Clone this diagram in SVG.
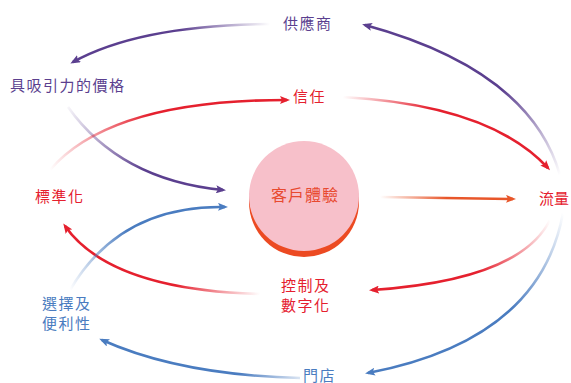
<svg xmlns="http://www.w3.org/2000/svg" width="571" height="383" viewBox="0 0 571 383">
<style>
.lbl{font-family:"Noto Sans CJK TC","Noto Sans CJK SC",sans-serif;font-size:15px;letter-spacing:1.5px}
.pu{fill:#5b3f8f}.rd{fill:#e5202e}.bl{fill:#4a7cc0}
.ln{fill:none;stroke-width:2.6}
</style>
<defs>
<marker id="mPu" viewBox="0 0 10 8" refX="7" refY="4" markerWidth="10" markerHeight="8" markerUnits="userSpaceOnUse" orient="auto"><path d="M0,0 L10,4 L0,8 L2,4 z" fill="#5b3f8f"/></marker>
<marker id="mRd" viewBox="0 0 10 8" refX="7" refY="4" markerWidth="10" markerHeight="8" markerUnits="userSpaceOnUse" orient="auto"><path d="M0,0 L10,4 L0,8 L2,4 z" fill="#e5202e"/></marker>
<marker id="mBl" viewBox="0 0 10 8" refX="7" refY="4" markerWidth="10" markerHeight="8" markerUnits="userSpaceOnUse" orient="auto"><path d="M0,0 L10,4 L0,8 L2,4 z" fill="#4a7cc0"/></marker>
<marker id="mOr" viewBox="0 0 10 8" refX="7" refY="4" markerWidth="10" markerHeight="8" markerUnits="userSpaceOnUse" orient="auto"><path d="M0,0 L10,4 L0,8 L2,4 z" fill="#e8562a"/></marker>
<linearGradient id="g1" gradientUnits="userSpaceOnUse" x1="270" y1="24" x2="73" y2="62"><stop offset="0" stop-color="#5b3f8f" stop-opacity="0"/><stop offset="0.45" stop-color="#5b3f8f"/></linearGradient>
<linearGradient id="g2" gradientUnits="userSpaceOnUse" x1="68" y1="107" x2="223" y2="190"><stop offset="0" stop-color="#5b3f8f" stop-opacity="0.05"/><stop offset="0.55" stop-color="#5b3f8f"/></linearGradient>
<linearGradient id="g3" gradientUnits="userSpaceOnUse" x1="50" y1="170" x2="287" y2="100"><stop offset="0" stop-color="#e5202e" stop-opacity="0"/><stop offset="0.45" stop-color="#e5202e"/></linearGradient>
<linearGradient id="g4" gradientUnits="userSpaceOnUse" x1="343" y1="97" x2="548" y2="168"><stop offset="0" stop-color="#e5202e" stop-opacity="0"/><stop offset="0.4" stop-color="#e5202e"/></linearGradient>
<linearGradient id="g5" gradientUnits="userSpaceOnUse" x1="560" y1="175" x2="365" y2="25"><stop offset="0" stop-color="#5b3f8f" stop-opacity="0"/><stop offset="0.4" stop-color="#5b3f8f"/></linearGradient>
<linearGradient id="g6" gradientUnits="userSpaceOnUse" x1="380" y1="197" x2="513" y2="199"><stop offset="0" stop-color="#e8562a" stop-opacity="0"/><stop offset="0.5" stop-color="#e8562a"/></linearGradient>
<linearGradient id="g7" gradientUnits="userSpaceOnUse" x1="550" y1="220" x2="372" y2="290"><stop offset="0" stop-color="#e5202e" stop-opacity="0"/><stop offset="0.45" stop-color="#e5202e"/></linearGradient>
<linearGradient id="g8" gradientUnits="userSpaceOnUse" x1="563" y1="213" x2="368" y2="373"><stop offset="0" stop-color="#4a7cc0" stop-opacity="0"/><stop offset="0.4" stop-color="#4a7cc0"/></linearGradient>
<linearGradient id="g9" gradientUnits="userSpaceOnUse" x1="300" y1="378" x2="102" y2="340"><stop offset="0" stop-color="#4a7cc0" stop-opacity="0.2"/><stop offset="0.3" stop-color="#4a7cc0"/></linearGradient>
<linearGradient id="g10" gradientUnits="userSpaceOnUse" x1="260" y1="294" x2="65" y2="226"><stop offset="0" stop-color="#e5202e" stop-opacity="0"/><stop offset="0.4" stop-color="#e5202e"/></linearGradient>
<linearGradient id="g11" gradientUnits="userSpaceOnUse" x1="70" y1="290" x2="225" y2="207"><stop offset="0" stop-color="#4a7cc0" stop-opacity="0"/><stop offset="0.45" stop-color="#4a7cc0"/></linearGradient>
</defs>
<g id="connectors">
<path class="ln" stroke="url(#g1)" marker-end="url(#mPu)" d="M270,24 Q140,25 73,62"/>
<path class="ln" stroke="url(#g2)" marker-end="url(#mPu)" d="M68,107 Q120,180 223,190"/>
<path class="ln" stroke="url(#g3)" marker-end="url(#mRd)" d="M50,170 Q110,100 287,100"/>
<path class="ln" stroke="url(#g4)" marker-end="url(#mRd)" d="M343,97 Q490,105 548,168"/>
<path class="ln" stroke="url(#g5)" marker-end="url(#mPu)" d="M560,175 Q530,70 365,25"/>
<path class="ln" stroke="url(#g6)" marker-end="url(#mOr)" d="M380,197 L513,199"/>
<path class="ln" stroke="url(#g7)" marker-end="url(#mRd)" d="M550,220 Q520,280 372,290"/>
<path class="ln" stroke="url(#g8)" marker-end="url(#mBl)" d="M563,213 Q540,340 368,373"/>
<path class="ln" stroke="url(#g9)" marker-end="url(#mBl)" d="M300,378 Q180,375 102,340"/>
<path class="ln" stroke="url(#g10)" marker-end="url(#mRd)" d="M260,294 Q110,290 65,226"/>
<path class="ln" stroke="url(#g11)" marker-end="url(#mBl)" d="M70,290 Q120,205 225,207"/>
</g>
<g id="center">
<circle cx="304" cy="202" r="55" fill="#ec4a22"/>
<circle cx="304" cy="196" r="55" fill="#f7c0ca"/>
<text class="lbl" x="305" y="201" text-anchor="middle" style="fill:#e84a30;font-size:16px;letter-spacing:1px">客戶體驗</text>
</g>
<g id="supplier"><text class="lbl pu" x="283" y="28.5">供應商</text></g>
<g id="price"><text class="lbl pu" x="10" y="90.5">具吸引力的價格</text></g>
<g id="trust"><text class="lbl rd" x="293" y="102">信任</text></g>
<g id="standard"><text class="lbl rd" x="35" y="202">標準化</text></g>
<g id="traffic"><text class="lbl rd" x="539" y="203.5" style="letter-spacing:0">流量</text></g>
<g id="control"><text class="lbl rd" x="281" y="290.5">控制及</text><text class="lbl rd" x="281" y="310.5">數字化</text></g>
<g id="choice"><text class="lbl bl" x="42" y="308.5">選擇及</text><text class="lbl bl" x="42" y="328.5">便利性</text></g>
<g id="store"><text class="lbl bl" x="303" y="380.5">門店</text></g>
</svg>
